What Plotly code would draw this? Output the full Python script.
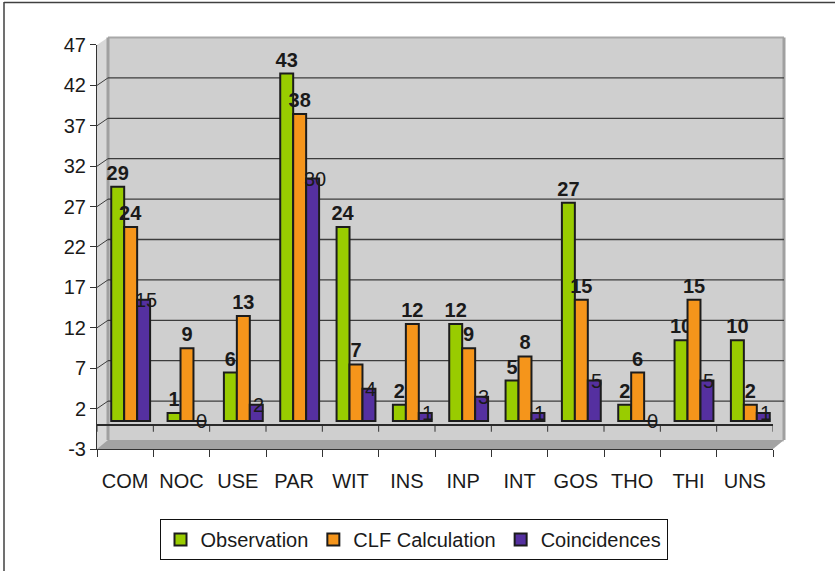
import plotly.graph_objects as go

# ---- data ----
categories = ["COM", "NOC", "USE", "PAR", "WIT", "INS", "INP", "INT", "GOS", "THO", "THI", "UNS"]
observation = [29, 1, 6, 43, 24, 2, 12, 5, 27, 2, 10, 10]
clf_calculation = [24, 9, 13, 38, 7, 12, 9, 8, 15, 6, 15, 2]
coincidences = [15, 0, 2, 30, 4, 1, 3, 1, 5, 0, 5, 1]
y_ticks = [-3, 2, 7, 12, 17, 22, 27, 32, 37, 42, 47]

# ---- geometry (pixels) ----
W, H = 835, 571
L, R, T, B = 97, 51, 37, 121          # margins -> plot box 97..784 x 37..450
PW, PH = W - L - R, H - T - B
DEPTH_X, DEPTH_Y = 11, 7.5            # back wall offset
FRONT_W = 676                         # front axis length
FRONT_H = 405                         # front axis height
BARGAP = 0.31

def px(x):
    return (x - L) / PW

def py(y):
    return (T + PH - y) / PH

GREEN, ORANGE, PURPLE = "#99cc00", "#f5951b", "#5530a0"
OUTLINE = "#1c1c1c"
FONT = "Liberation Sans, Arial, sans-serif"

fig = go.Figure()

# invisible carrier so the front category axis knows its categories
fig.add_trace(go.Scatter(x=categories, y=[0] * len(categories), mode="markers",
                         marker=dict(opacity=0), showlegend=False, hoverinfo="skip",
                         xaxis="x", yaxis="y"))

series = [("Observation", observation, GREEN, True),
          ("CLF Calculation", clf_calculation, ORANGE, True),
          ("Coincidences", coincidences, PURPLE, False)]
for name, vals, color, outside in series:
    fig.add_trace(go.Bar(
        name=name, x=categories, y=vals, xaxis="x2", yaxis="y2",
        marker=dict(color=color, line=dict(color=OUTLINE, width=2)),
        text=vals if outside else None,
        texttemplate="<b>%{y}</b>" if outside else None,
        textposition="outside" if outside else "none",
        constraintext="none",
        textfont=dict(family=FONT, size=20, color="#1a1a1a"),
        cliponaxis=False,
    ))

# coincidence labels sit centred on the bar tops
bar_w = FRONT_W / len(categories) * (1 - BARGAP) / 3
annotations = [dict(x=c, y=v, xref="x2", yref="y2", xshift=bar_w + 2, showarrow=False,
                    text=str(v), font=dict(family=FONT, size=20, color="#1a1a1a"))
               for c, v in zip(categories, coincidences)]

shapes = []
# back wall
shapes.append(dict(type="rect", xref="paper", yref="paper", layer="below",
                   x0=px(L + DEPTH_X), x1=px(L + FRONT_W + DEPTH_X),
                   y0=py(450 - DEPTH_Y), y1=py(45 - DEPTH_Y),
                   fillcolor="#cfcfcf", line=dict(width=0)))
# left side wall
shapes.append(dict(type="path", xref="paper", yref="paper", layer="below",
                   path=f"M{px(L)},{py(45)} L{px(L + DEPTH_X)},{py(45 - DEPTH_Y)} "
                        f"L{px(L + DEPTH_X)},{py(450 - DEPTH_Y)} L{px(L)},{py(450)} Z",
                   fillcolor="#d8d8d8", line=dict(width=0)))
# floor slab front band
shapes.append(dict(type="path", xref="paper", yref="paper", layer="below",
                   path=f"M{px(L)},{py(450)} L{px(L + DEPTH_X)},{py(441)} "
                        f"L{px(L + FRONT_W + DEPTH_X)},{py(441)} L{px(L + FRONT_W)},{py(450)} Z",
                   fillcolor="#a3a3a3", line=dict(width=0)))
# wall edges
shapes.append(dict(type="line", xref="paper", yref="paper", layer="below",
                   x0=px(L + DEPTH_X), x1=px(L + FRONT_W + DEPTH_X),
                   y0=py(45 - DEPTH_Y), y1=py(45 - DEPTH_Y),
                   line=dict(color="#a8a8a8", width=2)))
for xe in (L + DEPTH_X, L + FRONT_W + DEPTH_X):
    shapes.append(dict(type="line", xref="paper", yref="paper", layer="below",
                       x0=px(xe), x1=px(xe), y0=py(441), y1=py(45 - DEPTH_Y),
                       line=dict(color="#a0a0a0", width=3)))
# back-wall gridlines and their diagonal connectors to the front axis
for v in y_ticks[1:]:
    if v < 47:
        shapes.append(dict(type="line", xref="paper", yref="y", layer="below",
                           ysizemode="pixel", yanchor=v, y0=DEPTH_Y, y1=DEPTH_Y,
                           x0=px(L + DEPTH_X), x1=px(L + FRONT_W + DEPTH_X),
                           line=dict(color="#3c3c3c", width=1.3)))
    shapes.append(dict(type="line", xref="paper", yref="y", layer="below",
                       ysizemode="pixel", yanchor=v, y0=0, y1=DEPTH_Y,
                       x0=px(L), x1=px(L + DEPTH_X),
                       line=dict(color="#3c3c3c", width=1)))
# category ticks hanging from the zero line
for i in range(len(categories) + 1):
    shapes.append(dict(type="line", xref="x", yref="y", layer="below",
                       ysizemode="pixel", yanchor=0, y0=0, y1=-7,
                       x0=i - 0.5, x1=i - 0.5, line=dict(color="#333333", width=1)))
# outer frame (left and top edges)
shapes.append(dict(type="line", xref="paper", yref="paper",
                   x0=px(4), x1=px(4), y0=py(2), y1=py(H + 20),
                   line=dict(color="#404040", width=1.5)))
shapes.append(dict(type="line", xref="paper", yref="paper",
                   x0=px(4), x1=px(W + 20), y0=py(2.5), y1=py(2.5),
                   line=dict(color="#404040", width=1.5)))

tickfont = dict(family=FONT, size=20, color="#1a1a1a")

fig.update_layout(
    width=W, height=H,
    margin=dict(l=L, r=R, t=T, b=B, pad=0),
    paper_bgcolor="white", plot_bgcolor="rgba(0,0,0,0)",
    barmode="group", bargap=BARGAP, bargroupgap=0,
    showlegend=True,
    legend=dict(orientation="h", x=px(413.5), y=py(519), xanchor="center", yanchor="top",
                bordercolor="#111111", borderwidth=1, bgcolor="white",
                font=dict(family=FONT, size=20, color="#1a1a1a"),
                itemwidth=30, tracegroupgap=0),
    xaxis=dict(type="category", categoryorder="array", categoryarray=categories,
               domain=[0, FRONT_W / PW], range=[-0.5, len(categories) - 0.5],
               anchor="y", tickson="boundaries", ticks="outside", ticklen=7,
               tickcolor="#333333", showline=True, linecolor="#333333", linewidth=1,
               showgrid=False, zeroline=False, tickfont=tickfont, ticklabelstandoff=14),
    yaxis=dict(domain=[0, FRONT_H / PH], range=[-3, 47], tickvals=y_ticks,
               ticktext=[str(v) for v in y_ticks],
               anchor="x", ticks="outside", ticklen=6, tickcolor="#333333",
               showline=True, linecolor="#333333", linewidth=1, showgrid=False,
               zeroline=True, zerolinecolor="#2a2a2a", zerolinewidth=1.5,
               tickfont=tickfont, ticklabelstandoff=0),
    xaxis2=dict(type="category", categoryorder="array", categoryarray=categories,
                domain=[(DEPTH_X / 2) / PW, (FRONT_W + DEPTH_X / 2) / PW],
                range=[-0.5, len(categories) - 0.5], anchor="y2", visible=False),
    yaxis2=dict(domain=[(DEPTH_Y / 2) / PH, (FRONT_H + DEPTH_Y / 2) / PH],
                range=[-3, 47], anchor="x2", visible=False),
    shapes=shapes,
    annotations=annotations,
)

fig.write_html("out.html")
